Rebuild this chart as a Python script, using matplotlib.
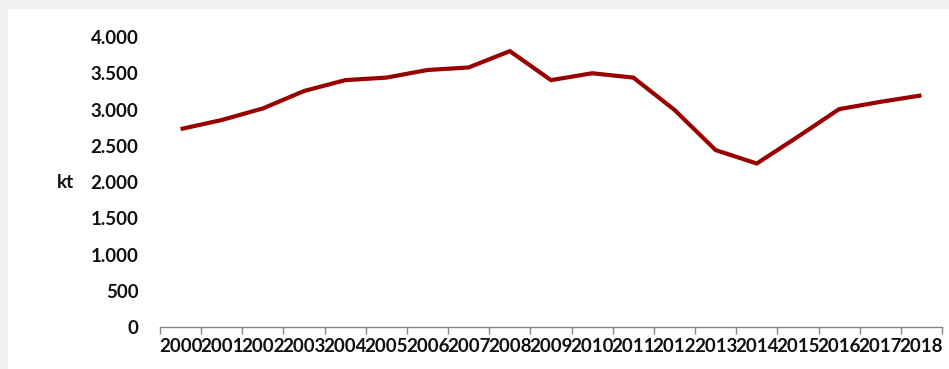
import matplotlib
matplotlib.use("Agg")
import matplotlib.pyplot as plt
from matplotlib.patches import Rectangle
from matplotlib.ticker import FuncFormatter

years = [str(y) for y in range(2000, 2019)]
values_kt = [2730, 2855, 3015, 3255, 3405, 3440, 3545, 3580, 3805, 3405,
             3500, 3440, 2995, 2440, 2255, 2625, 3005, 3105, 3195]
y_ticks = [0, 500, 1000, 1500, 2000, 2500, 3000, 3500, 4000]

plt.rcParams['font.family'] = ['Lato', 'DejaVu Sans']

W, H = 949, 369
fig = plt.figure(figsize=(W / 100, H / 100), dpi=100)
fig.patch.set_facecolor('#f0f0f0')
fig.patches.append(Rectangle((8 / W, 0), 1 - 8 / W, 1 - 9 / H,
                             transform=fig.transFigure, facecolor='white',
                             edgecolor='none', zorder=-10))

# axes: x from 160 to 942 px, y from 0 at 327 px to 4000 at 37 px
left, right = 160 / W, 942 / W
bottom = 1 - 327 / H
top_val_px = 37
ax_h = (327 - top_val_px) / H
ax = fig.add_axes([left, bottom, right - left, ax_h])
ax.set_facecolor('none')

n = len(years)
xs = list(range(n))
ax.plot(xs, values_kt, color='#990000', lw=3.0, solid_joinstyle='miter',
        solid_capstyle='butt', zorder=3, clip_on=False)

ax.set_xlim(-0.5, n - 0.5)
ax.set_ylim(0, 4000)

for s in ['top', 'right', 'left']:
    ax.spines[s].set_visible(False)
ax.spines['bottom'].set_color('#868686')
ax.spines['bottom'].set_linewidth(1.0)

ax.set_yticks(y_ticks)
ax.yaxis.set_major_formatter(FuncFormatter(lambda v, p: f"{int(v):,}".replace(',', '.')))
ax.tick_params(axis='y', length=0, pad=15.5, labelsize=13.5, labelcolor='#111111')

ax.set_xticks(xs)
ax.set_xticklabels(years)
ax.tick_params(axis='x', which='major', length=0, pad=8, labelsize=13.5, labelcolor='#111111')
ax.set_xticks([i - 0.5 for i in range(n + 1)], minor=True)
ax.tick_params(axis='x', which='minor', length=5, color='#868686', width=1.0, direction='out')

for lab in ax.get_xticklabels() + ax.get_yticklabels():
    lab.set_fontweight('bold')

fig.text(66 / W, 1 - 183 / H, 'kt', fontsize=13.5, fontweight='bold',
         color='#111111', ha='center', va='center')

fig.savefig('out.png', dpi=100)
